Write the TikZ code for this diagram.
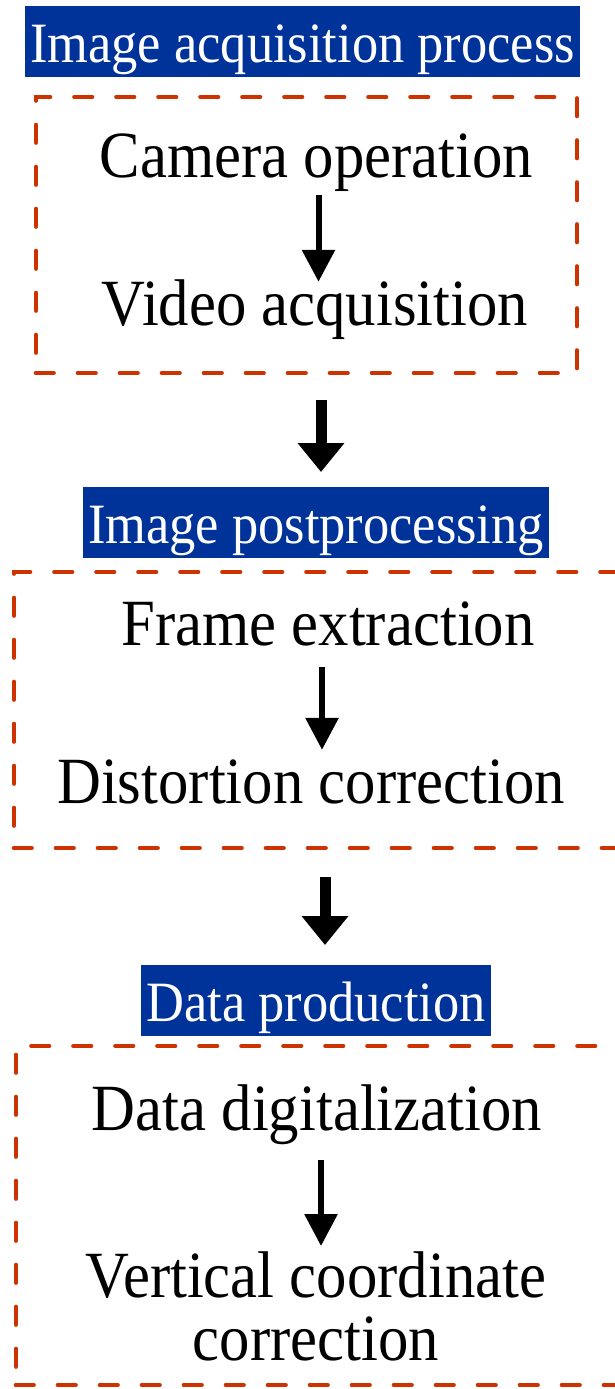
\documentclass[tikz,border=0pt]{standalone}
\usepackage{fontspec}
\setmainfont{Liberation Serif}[FakeStretch=0.92]
\usetikzlibrary{arrows.meta,positioning,calc}
\definecolor{headblue}{RGB}{0,51,153}
\definecolor{dashred}{RGB}{204,51,0}

\begin{document}
\begin{tikzpicture}[
            x=1pt,y=-1pt,
            header/.style={
            fill=headblue,
            text=white,
            anchor=north,
            inner xsep=5.5pt,
            inner ysep=0pt,
            text height=56pt,
            text depth=15pt,
            font=\fontsize{57}{62}\selectfont},
            steptext/.style={
            anchor=base,
            inner sep=0pt,
            text height=43pt,
            text depth=14pt,
            align=center,
            font=\fontsize{66}{63}\selectfont},
            groupbox/.style={
            draw=dashred,
            line width=4.7pt,
            dash pattern=on 17.5pt off 24.5pt,
            line cap=round,
            inner sep=0pt},
        thinarrow/.style={-{Triangle[length=32pt,width=32pt]},line width=6pt},
        thickarrow/.style={-{Triangle[length=29pt,width=45pt]},line width=11pt}
        ]
        \useasboundingbox (0,0) rectangle (615,1389);

        % dashed group frames
        \node[groupbox,minimum width=541pt,minimum height=276pt] (box1) at (306.5,235) {};
        \node[groupbox,minimum width=626pt,minimum height=276pt] (box2) at (327,710) {};
        \node[groupbox,minimum width=624pt,minimum height=339pt] (box3) at (328,1215.5) {};

        % headings
        \node[header] (h1) at (302.5,6) {Image acquisition process};
        \node[header] (h2) at (316,487) {Image postprocessing};
        \node[header] (h3) at (316,965) {Data production};

        % steps
        \node[steptext] (cam) at (316.5,177) {Camera operation};
        \node[steptext] (vid) at (315,325) {Video acquisition};
        \node[steptext] (frame) at (328,645) {Frame extraction};
        \node[steptext] (dist) at (311,803) {Distortion correction};
        \node[steptext] (digi) at (317,1130) {Data digitalization};
        % two lines: base is the last line here
        \node[steptext,text height=,text depth=] (vert) at (316,1360) {Vertical coordinate\\correction};

        \foreach \a/\b/\dx/\s/\e in {% from/to/x offset/start gap/end gap
            cam/vid/2/4/0,
            frame/dist/-6/8/10,
            digi/vert/4/16/5}
            \draw[thinarrow,shorten <=\s pt,shorten >=\e pt] ($(\a.south)+(\dx,0)$) -- ($(\a.south |- \b.north)+(\dx,0)$);

        \foreach \a/\b/\dx/\s/\e in {
            box1/h2/5/25/15,
            box2/h3/9/27/20}
            \draw[thickarrow,shorten <=\s pt,shorten >=\e pt] ($(\a.south -| \b.north)+(\dx,0)$) -- ($(\b.north)+(\dx,0)$);
\end{tikzpicture}
\end{document}
